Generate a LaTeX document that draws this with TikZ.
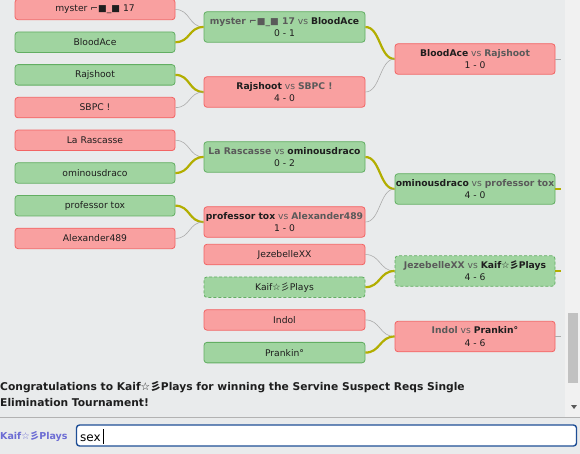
\documentclass[tikz,border=0pt]{standalone}
\usepackage{fontspec}
\setmainfont{DejaVu Sans}
\newfontfamily\cjk{Noto Sans CJK SC}
\newcommand\kfp{Kaif☆{\cjk 彡}Plays}
\definecolor{bgc}{HTML}{E9EBEC}
\definecolor{redf}{HTML}{F9A0A0}
\definecolor{redb}{HTML}{F26464}
\definecolor{grnf}{HTML}{A0D4A0}
\definecolor{grnb}{HTML}{62AE62}
\definecolor{oliv}{HTML}{B2AE00}
\definecolor{lgray}{HTML}{ABABAB}
\definecolor{lose}{HTML}{5A5A5A}
\definecolor{txt}{HTML}{1E1E1E}
\definecolor{inpb}{HTML}{1F4F96}
\definecolor{usr}{HTML}{6C6CD4}
\definecolor{strk}{HTML}{F1F1F1}
\definecolor{thmb}{HTML}{C1C1C1}
\newcommand\lo[1]{{\bfseries\color{lose}#1}}
\newcommand\wi[1]{{\bfseries\color{txt}#1}}
\newcommand\vs{{\color{lose}vs}}
\begin{document}
\begin{tikzpicture}[x=1pt,y=-1pt,
  base/.style={rounded corners=3pt, line width=0.8pt, minimum width=160pt,
    minimum height=20.5pt, inner sep=0pt, align=center, text=txt,
    font=\fontsize{9.2}{12.3}\selectfont},
  lost/.style={base, draw=redb, fill=redf},
  won/.style={base, draw=grnb, fill=grnf},
  pend/.style={base, draw=grnb, fill=grnf, dashed, dash pattern=on 3pt off 2pt},
  match/.style={minimum height=30.5pt},
  wline/.style={draw=oliv, line width=2.2pt},
  lline/.style={draw=lgray, line width=0.6pt}]
\useasboundingbox (0,0) rectangle (580,454);
\fill[bgc] (0,0) rectangle (580,454);
% scrollbar
\fill[strk] (565,0) rectangle (580,417);
\fill[thmb] (568,313) rectangle (578,383);
\fill[black!65] (571,405) -- (577,405) -- (574,409) -- cycle;
\draw[black!30, line width=0.8pt] (0,417.5) -- (580,417.5);
% round 1
\node[lost] (p1) at (95,9.5) {myster ⌐■\_■ 17};
\node[won] (p2) at (95,42.2) {BloodAce};
\node[won] (p3) at (95,74.9) {Rajshoot};
\node[lost] (p4) at (95,107.6) {SBPC !};
\node[lost] (p5) at (95,140.3) {La Rascasse};
\node[won] (p6) at (95,173) {ominousdraco};
\node[won] (p7) at (95,205.7) {professor tox};
\node[lost] (p8) at (95,238.4) {Alexander489};
% column 2 players
\node[lost, minimum width=161pt] (p9) at (284.5,254.5) {JezebelleXX};
\node[pend, minimum width=161pt] (p10) at (284.5,287.2) {\kfp};
\node[lost, minimum width=161pt] (p11) at (284.5,319.9) {Indol};
\node[won, minimum width=161pt] (p12) at (284.5,352.6) {Prankin°};
% round 2 matches
\node[won, match, minimum width=161pt] (m1) at (284.5,27) {\lo{myster ⌐■\_■ 17} \vs{} \wi{BloodAce}\\0 - 1};
\node[lost, match, minimum width=161pt] (m2) at (284.5,92) {\wi{Rajshoot} \vs{} \lo{SBPC !}\\4 - 0};
\node[won, match, minimum width=161pt] (m3) at (284.5,157) {\lo{La Rascasse} \vs{} \wi{ominousdraco}\\0 - 2};
\node[lost, match, minimum width=161pt] (m4) at (284.5,222) {\wi{professor tox} \vs{} \lo{Alexander489}\\1 - 0};
% round 3 matches
\node[lost, match] (m5) at (475,59) {\wi{BloodAce} \vs{} \lo{Rajshoot}\\1 - 0};
\node[won, match] (m6) at (475,189) {\wi{ominousdraco} \vs{} \lo{professor tox}\\4 - 0};
\node[pend, match] (m7) at (475,271) {\lo{JezebelleXX} \vs{} \wi{\kfp}\\4 - 6};
\node[lost, match] (m8) at (475,336.5) {\lo{Indol} \vs{} \wi{Prankin°}\\4 - 6};
% connectors
\newcommand\conn[3]{\draw[#1] (#2.east) .. controls +(15,0) and +(-15,0) .. (#3.west);}
\conn{lline}{p1}{m1}
\conn{wline}{p2}{m1}
\conn{wline}{p3}{m2}
\conn{lline}{p4}{m2}
\conn{lline}{p5}{m3}
\conn{wline}{p6}{m3}
\conn{wline}{p7}{m4}
\conn{lline}{p8}{m4}
\conn{wline}{m1}{m5}
\conn{lline}{m2}{m5}
\conn{wline}{m3}{m6}
\conn{lline}{m4}{m6}
\conn{lline}{p9}{m7}
\conn{wline}{p10}{m7}
\conn{lline}{p11}{m8}
\conn{wline}{p12}{m8}
\coordinate (s5) at (561,59);
\coordinate (s6) at (561,189);
\coordinate (s7) at (561,271);
\coordinate (s8) at (561,336.5);
\draw[lline] (m5.east) -- (s5);
\draw[wline] (m6.east) -- (s6);
\draw[wline] (m7.east) -- (s7);
\draw[lline] (m8.east) -- (s8);
% bottom text
\node[anchor=base west, inner sep=0pt, text=txt, font=\fontsize{10.7}{14}\selectfont\bfseries] (c1) at (0,390.5) {Congratulations to \kfp{} for winning the Servine Suspect Reqs Single};
\node[anchor=base west, inner sep=0pt, text=txt, font=\fontsize{10.7}{14}\selectfont\bfseries] (c2) at (0,406) {Elimination Tournament!};
\begin{scope}
\clip (0,420) rectangle (73,454);
\node[anchor=base west, inner sep=0pt, text=usr, font=\fontsize{9.5}{12}\selectfont\bfseries] (user) at (0,439.5) {\kfp};
\end{scope}
\draw[inpb, line width=1.4pt, fill=white, rounded corners=3pt] (76.5,425) rectangle (576.5,446);
\node[anchor=base west, inner sep=0pt, text=black, font=\fontsize{12}{14}\selectfont] (inp) at (80,441) {sex};
\coordinate (ct) at ([xshift=2pt]inp.east |- 0,429);
\coordinate (cb) at ([xshift=2pt]inp.east |- 0,444);
\draw[black, line width=0.8pt] (ct) -- (cb);
\end{tikzpicture}
\end{document}
